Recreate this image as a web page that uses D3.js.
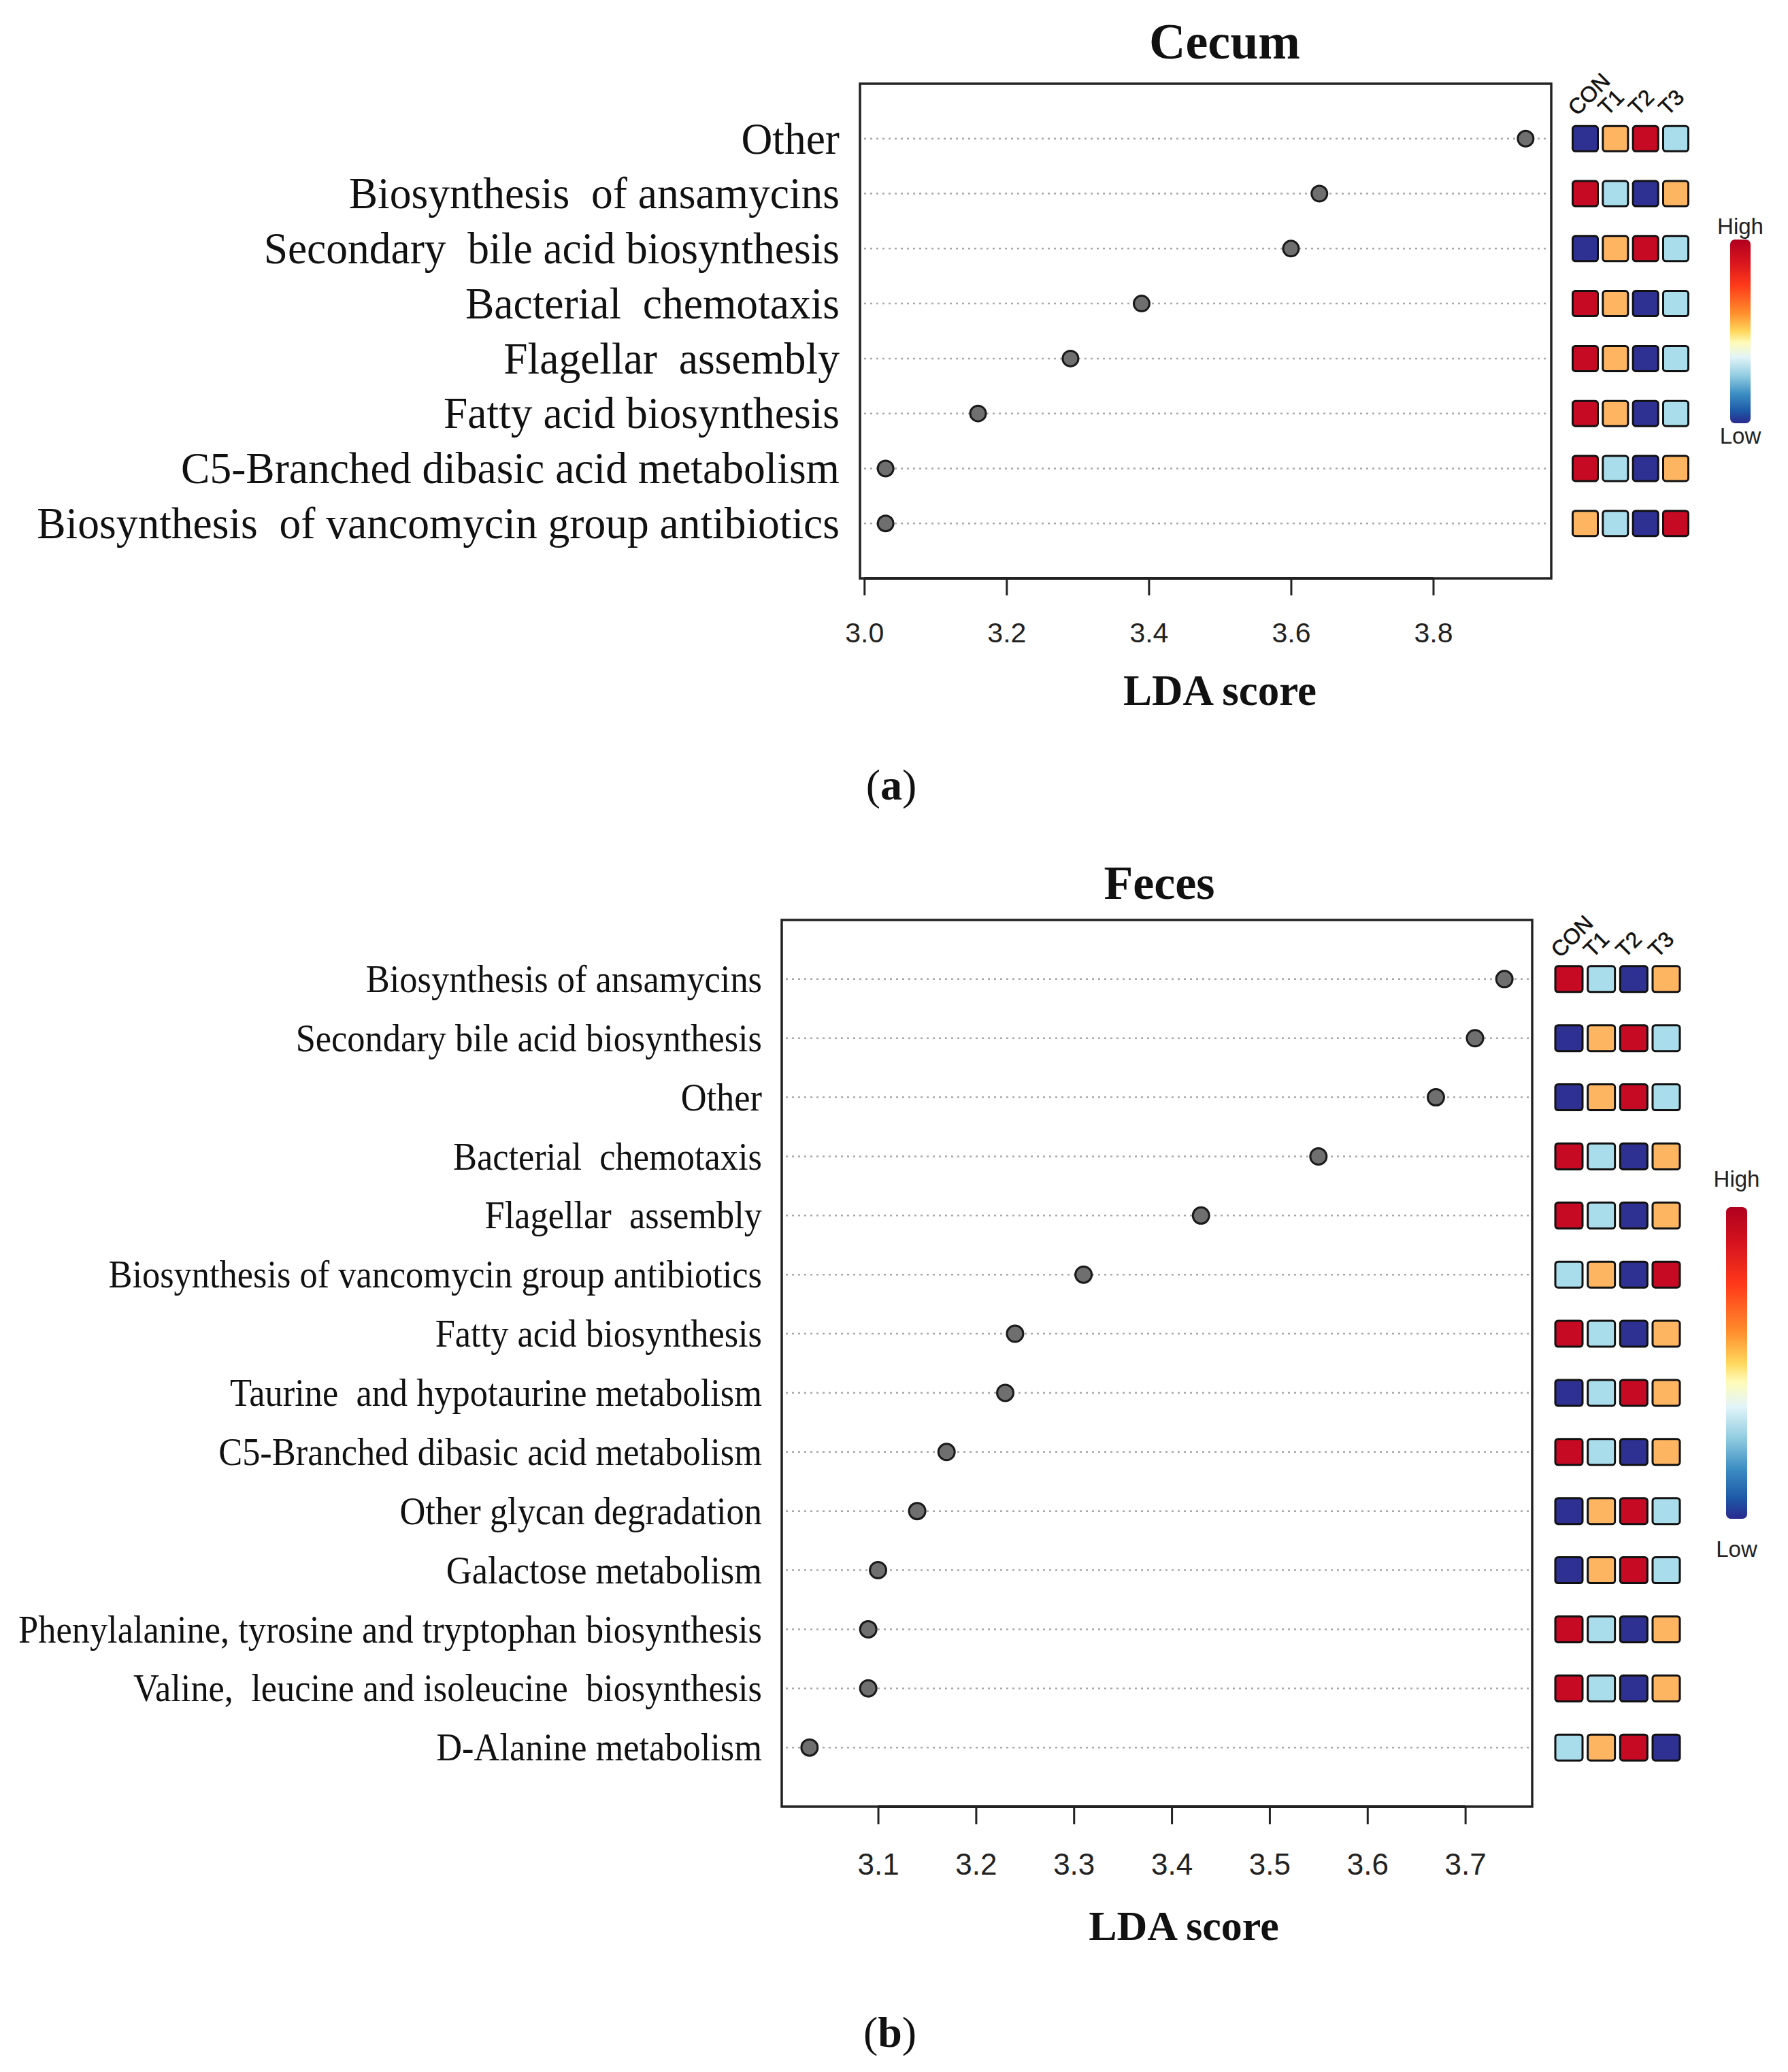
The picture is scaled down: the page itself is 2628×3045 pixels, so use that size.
<!DOCTYPE html>
<html>
<head>
<meta charset="utf-8">
<script src="https://cdn.jsdelivr.net/npm/d3@7"></script>
<style>
  body { margin: 0; background: #fff; }
  text { white-space: pre; }
</style>
</head>
<body>
<script>
var groups = ["CON", "T1", "T2", "T3"];

// panel (a) cecum
var cecumPathways = [
  "Other",
  "Biosynthesis  of ansamycins",
  "Secondary  bile acid biosynthesis",
  "Bacterial  chemotaxis",
  "Flagellar  assembly",
  "Fatty acid biosynthesis",
  "C5-Branched dibasic acid metabolism",
  "Biosynthesis  of vancomycin group antibiotics"
];
var cecumLDA = [3.93, 3.64, 3.60, 3.39, 3.29, 3.16, 3.03, 3.03];
// relative abundance rank per group (1 = low ... 4 = high)
var cecumRanks = [
  [1, 3, 4, 2],
  [4, 2, 1, 3],
  [1, 3, 4, 2],
  [4, 3, 1, 2],
  [4, 3, 1, 2],
  [4, 3, 1, 2],
  [4, 2, 1, 3],
  [3, 2, 1, 4]
];
var cecumTicks = [3.0, 3.2, 3.4, 3.6, 3.8];

// panel (b) feces
var fecesPathways = [
  "Biosynthesis of ansamycins",
  "Secondary bile acid biosynthesis",
  "Other",
  "Bacterial  chemotaxis",
  "Flagellar  assembly",
  "Biosynthesis of vancomycin group antibiotics",
  "Fatty acid biosynthesis",
  "Taurine  and hypotaurine metabolism",
  "C5-Branched dibasic acid metabolism",
  "Other glycan degradation",
  "Galactose metabolism",
  "Phenylalanine, tyrosine and tryptophan biosynthesis",
  "Valine,  leucine and isoleucine  biosynthesis",
  "D-Alanine metabolism"
];
var fecesLDA = [3.74, 3.71, 3.67, 3.55, 3.43, 3.31, 3.24, 3.23, 3.17, 3.14, 3.10, 3.09, 3.09, 3.03];
var fecesRanks = [
  [4, 2, 1, 3],
  [1, 3, 4, 2],
  [1, 3, 4, 2],
  [4, 2, 1, 3],
  [4, 2, 1, 3],
  [2, 3, 1, 4],
  [4, 2, 1, 3],
  [1, 2, 4, 3],
  [4, 2, 1, 3],
  [1, 3, 4, 2],
  [1, 3, 4, 2],
  [4, 2, 1, 3],
  [4, 2, 1, 3],
  [2, 3, 4, 1]
];
var fecesTicks = [3.1, 3.2, 3.3, 3.4, 3.5, 3.6, 3.7];

var rankColor = d3.scaleOrdinal()
    .domain([1, 2, 3, 4])
    .range(["#2E3192", "#A9DDEB", "#FDB562", "#C70A24"]);

var rampStops = [
  [0, "#B0001E"], [0.12, "#D7141E"], [0.25, "#FF3A1A"], [0.4, "#FF8E2C"],
  [0.5, "#FFD75C"], [0.56, "#FFFBB8"], [0.64, "#E2F4F8"], [0.74, "#92CDE1"],
  [0.84, "#3C8EC3"], [0.93, "#1E5BA8"], [1, "#2A2A8E"]
];

var svg = d3.select("body").append("svg")
    .attr("width", 2628)
    .attr("height", 3045)
    .style("background", "#fff");

var grad = svg.append("defs").append("linearGradient")
    .attr("id", "ramp")
    .attr("x1", 0).attr("y1", 0).attr("x2", 0).attr("y2", 1);
grad.selectAll("stop").data(rampStops).join("stop")
    .attr("offset", function(d) { return d[0]; })
    .attr("stop-color", function(d) { return d[1]; });

var serif = "'Liberation Serif', 'Times New Roman', serif",
    sans = "'Liberation Sans', Arial, sans-serif";

function drawPanel(p) {
  var n = p.pathways.length,
      lo = d3.min(p.lda),
      hi = d3.max(p.lda),
      ext = (hi - lo) * 0.04;

  var x = d3.scaleLinear().domain([lo - ext, hi + ext]).range([p.left, p.right]);
  var y = d3.scaleLinear().domain([0, n + 1]).range([p.top, p.bottom]);
  var col = d3.scalePoint().domain(groups).range(p.cols);

  var g = svg.append("g");

  // dotted guide lines
  g.selectAll(".guide").data(p.pathways).join("line")
      .attr("x1", p.left + 6).attr("x2", p.right - 4)
      .attr("y1", function(d, i) { return y(i + 1); })
      .attr("y2", function(d, i) { return y(i + 1); })
      .attr("stroke", "#a8a8a8")
      .attr("stroke-width", 2.5)
      .attr("stroke-dasharray", "3 6");

  g.append("rect")
      .attr("x", p.left).attr("y", p.top)
      .attr("width", p.right - p.left).attr("height", p.bottom - p.top)
      .attr("fill", "none").attr("stroke", "#222").attr("stroke-width", 3.5);

  g.selectAll(".pt").data(p.lda).join("circle")
      .attr("cx", function(d) { return x(d); })
      .attr("cy", function(d, i) { return y(i + 1); })
      .attr("r", p.r)
      .attr("fill", "#6f6f6f")
      .attr("stroke", "#1a1a1a")
      .attr("stroke-width", 3);

  // pathway labels, squeezed horizontally like the original
  var lab = g.append("g")
      .attr("font-family", serif)
      .attr("font-size", p.labelSize)
      .attr("fill", "#111");
  var texts = lab.selectAll("text").data(p.pathways).join("text")
      .attr("text-anchor", "end")
      .attr("x", 0)
      .attr("y", function(d, i) { return y(i + 1); })
      .attr("dy", "0.33em")
      .text(function(d) { return d; });
  var widest = d3.max(texts.nodes(), function(t) { return t.getComputedTextLength(); });
  lab.attr("transform", "translate(" + p.labelRight + ",0) scale(" + (p.labelWidth / widest) + ",1)");

  // x axis (R style: line spans first to last tick)
  var ax = g.append("g")
      .attr("transform", "translate(0," + p.bottom + ")")
      .call(d3.axisBottom(x)
        .tickValues(p.ticks)
        .tickSize(p.tickLen)
        .tickPadding(p.tickPad)
        .tickFormat(d3.format(".1f")));
  ax.select(".domain").remove();
  ax.selectAll(".tick line").attr("stroke", "#222").attr("stroke-width", 3);
  ax.selectAll(".tick text")
      .attr("font-family", sans)
      .attr("font-size", p.tickSize)
      .attr("fill", "#222");
  ax.append("line")
      .attr("x1", x(p.ticks[0])).attr("x2", x(p.ticks[p.ticks.length - 1]))
      .attr("stroke", "#222").attr("stroke-width", 4);

  g.append("text")
      .attr("x", p.xTitle[0]).attr("y", p.xTitle[1])
      .attr("text-anchor", "middle")
      .attr("font-family", serif).attr("font-weight", "bold")
      .attr("font-size", p.xTitleSize).attr("fill", "#111")
      .text("LDA score");

  g.append("text")
      .attr("x", p.title[0]).attr("y", p.title[1])
      .attr("text-anchor", "middle")
      .attr("font-family", serif).attr("font-weight", "bold")
      .attr("font-size", p.titleSize).attr("fill", "#111")
      .text(p.name);

  // abundance heat cells
  var rows = g.selectAll(".hrow").data(p.ranks).join("g")
      .attr("transform", function(d, i) { return "translate(0," + y(i + 1) + ")"; });
  rows.selectAll("rect").data(function(d) { return d; }).join("rect")
      .attr("x", function(d, j) { return col(groups[j]) - p.cellW / 2; })
      .attr("y", -p.cellH / 2)
      .attr("width", p.cellW).attr("height", p.cellH)
      .attr("rx", 4)
      .attr("fill", function(d) { return rankColor(d); })
      .attr("stroke", "#111").attr("stroke-width", 3);

  g.selectAll(".glab").data(groups).join("text")
      .attr("transform", function(d) {
        return "translate(" + (col(d) - p.glabOff[0]) + "," + (y(1) - p.cellH / 2 - p.glabOff[1]) + ") rotate(-45)";
      })
      .attr("font-family", sans)
      .attr("font-size", 32)
      .attr("fill", "#111")
      .attr("stroke", "#111").attr("stroke-width", 0.6)
      .text(function(d) { return d; });

  // colour key
  g.append("rect")
      .attr("x", p.key[0]).attr("y", p.key[1])
      .attr("width", p.key[2]).attr("height", p.key[3])
      .attr("rx", 7)
      .attr("fill", "url(#ramp)");
  g.append("text")
      .attr("x", p.key[0] + p.key[2] / 2).attr("y", p.key[1] - p.keyGap[0])
      .attr("text-anchor", "middle")
      .attr("font-family", sans).attr("font-size", 33).attr("fill", "#222")
      .text("High");
  g.append("text")
      .attr("x", p.key[0] + p.key[2] / 2).attr("y", p.key[1] + p.key[3] + p.keyGap[1])
      .attr("text-anchor", "middle")
      .attr("font-family", sans).attr("font-size", 33).attr("fill", "#222")
      .text("Low");

  var tag = g.append("text")
      .attr("x", p.tag[0]).attr("y", p.tag[1])
      .attr("text-anchor", "middle")
      .attr("font-family", serif).attr("font-size", 64).attr("fill", "#111");
  tag.append("tspan").text("(");
  tag.append("tspan").attr("font-weight", "bold").text(p.tagLetter);
  tag.append("tspan").text(")");
}

drawPanel({
  name: "Cecum", pathways: cecumPathways, lda: cecumLDA, ranks: cecumRanks, ticks: cecumTicks,
  left: 1264, right: 2280, top: 123, bottom: 850, r: 11.5,
  labelRight: 1234, labelWidth: 1180, labelSize: 66,
  tickLen: 25, tickPad: 40, tickSize: 41,
  xTitle: [1793, 1036], xTitleSize: 63,
  title: [1800, 86], titleSize: 74,
  cols: [2330, 2463], cellW: 37, cellH: 37, glabOff: [12, 14],
  key: [2543, 352, 30, 270], keyGap: [8, 30],
  tag: [1310, 1175], tagLetter: "a"
});

drawPanel({
  name: "Feces", pathways: fecesPathways, lda: fecesLDA, ranks: fecesRanks, ticks: fecesTicks,
  left: 1149, right: 2252, top: 1352, bottom: 2655, r: 12,
  labelRight: 1120, labelWidth: 1093, labelSize: 58,
  tickLen: 26, tickPad: 43, tickSize: 44,
  xTitle: [1740, 2851], xTitleSize: 62,
  title: [1704, 1321], titleSize: 70,
  cols: [2306, 2449], cellW: 40, cellH: 38, glabOff: [13, 11],
  key: [2537, 1774, 31, 458], keyGap: [30, 56],
  tag: [1308, 3008], tagLetter: "b"
});
</script>
</body>
</html>
